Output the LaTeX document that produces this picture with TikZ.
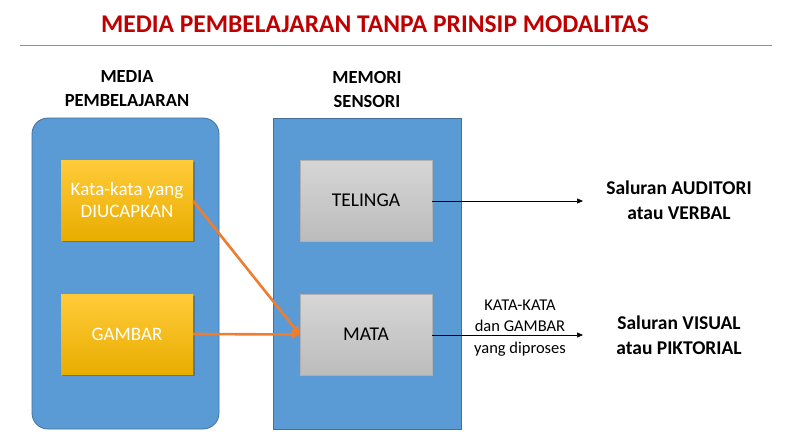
\documentclass[tikz,border=0pt]{standalone}
\usepackage{fontspec}
\setmainfont{Carlito}
\usetikzlibrary{shadows,arrows.meta}
\definecolor{titlered}{HTML}{C00000}
\definecolor{rulecol}{HTML}{5E9DC8}
\definecolor{bluefill}{HTML}{5B9BD5}
\definecolor{blueedge}{HTML}{41719C}
\definecolor{ytop}{HTML}{FFCB3A}
\definecolor{ybot}{HTML}{E9AD00}
\definecolor{gtop}{HTML}{D6D6D6}
\definecolor{gbot}{HTML}{BCBCBC}
\definecolor{gedge}{HTML}{B0B0B0}
\definecolor{orangeline}{HTML}{ED7D31}
\tikzset{
  panel/.style={fill=bluefill, draw=blueedge, line width=0.8pt},
  yellowbox/.style={draw=none, top color=ytop, bottom color=ybot, minimum width=132pt, minimum height=80pt,
    text=white, font=\fontsize{19}{22}\selectfont, align=center, inner sep=0pt,
    drop shadow={shadow xshift=1.5pt, shadow yshift=-1.5pt, opacity=0.45, fill=black!70}},
  greybox/.style={draw=gedge, line width=0.6pt, top color=gtop, bottom color=gbot, minimum width=132pt, minimum height=81pt,
    text=black, font=\fontsize{19.5}{22}\selectfont, align=center, inner sep=0pt},
  header/.style={font=\bfseries\fontsize{18.5}{24}\selectfont, align=center},
  outlabel/.style={font=\bfseries\fontsize{19.5}{25}\selectfont, align=center},
  smalllabel/.style={font=\fontsize{16.5}{21.5}\selectfont, align=center},
  blackarrow/.style={-{Triangle[length=6pt,width=5pt]}, line width=0.6pt, black},
  orangearrow/.style={-{Triangle[length=8pt,width=8pt]}, line width=2.6pt, orangeline},
}
\begin{document}
\begin{tikzpicture}[x=1pt,y=-1pt]
\useasboundingbox (0,0) rectangle (790,447);
\fill[white] (0,0) rectangle (790,447);
% title
\node[text=titlered, font=\bfseries\fontsize{25.5}{30}\selectfont] (title) at (375,24) {MEDIA PEMBELAJARAN TANPA PRINSIP MODALITAS};
\coordinate (ruleL) at (20,45);
\coordinate (ruleR) at (772,45);
\draw[rulecol, line width=0.8pt] (ruleL) -- (ruleR);
% headers
\node[header] (h1) at (127,89) {MEDIA\\PEMBELAJARAN};
\node[header] (h2) at (367,89) {MEMORI\\SENSORI};
% panels
\draw[panel, rounded corners=16pt] (32,118) rectangle (219,429);
\draw[panel] (273,118) rectangle (461,429);
% boxes
\node[yellowbox] (kata) at (127,200) {Kata-kata yang\\DIUCAPKAN};
\node[yellowbox] (gambar) at (127,334) {GAMBAR};
\node[greybox] (telinga) at (366,200.5) {TELINGA};
\node[greybox] (mata) at (366,334.5) {MATA};
% output labels
\node[outlabel] (aud) at (679,200) {Saluran AUDITORI\\atau VERBAL};
\node[outlabel] (vis) at (679,335) {Saluran VISUAL\\atau PIKTORIAL};
\node[smalllabel] (proc) at (520,328) {KATA-KATA\\dan GAMBAR\\yang diproses};
% arrows
\coordinate (audend) at (583,201);
\coordinate (visend) at (583,335);
\draw[blackarrow] (telinga.east |- audend) -- (audend);
\draw[blackarrow] (mata.east |- visend) -- (visend);
\draw[orangearrow] (kata.east) ++(0,1) -- (mata.west);
\draw[orangearrow] (gambar.east) -- (mata.west);
\end{tikzpicture}
\end{document}
